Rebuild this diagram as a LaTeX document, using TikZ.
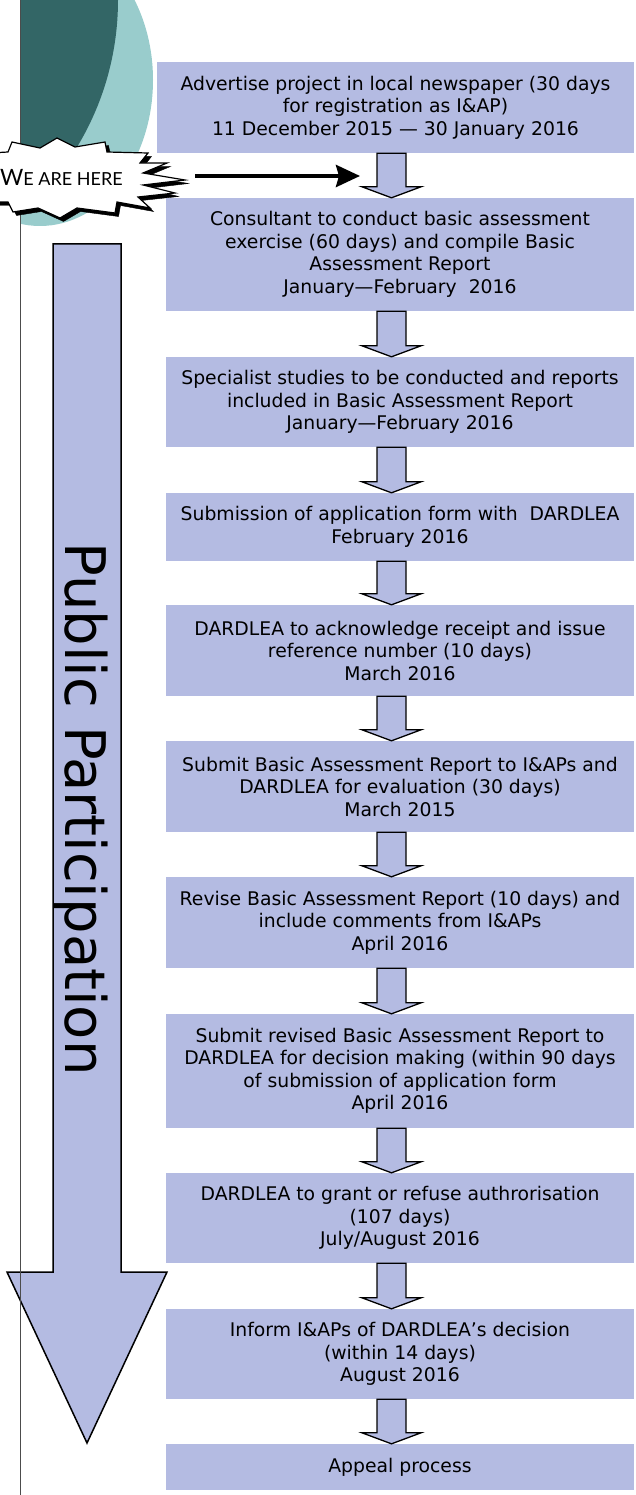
\documentclass[tikz,border=0pt]{standalone}
\usepackage{fontspec}
\setmainfont{DejaVu Sans}
\newfontfamily\burstfont{Lato}
\usetikzlibrary{arrows.meta,calc}
\definecolor{boxblue}{RGB}{180,187,226}
\definecolor{tealL}{RGB}{153,204,204}
\definecolor{tealD}{RGB}{51,102,102}
\def\sw{14.5}
\def\hw{29.5}
\def\hh{11}
\newcommand{\flowarrow}[2]{%
  \draw[blockarrow] ($(#1.south -| ax)+(-\sw,0)$) -- ($(#1.south -| ax)+(\sw,0)$)
    -- ($(#2.north -| ax)+(\sw,-\hh)$) -- ($(#2.north -| ax)+(\hw,-\hh)$) -- (#2.north -| ax)
    -- ($(#2.north -| ax)+(-\hw,-\hh)$) -- ($(#2.north -| ax)+(-\sw,-\hh)$) -- cycle;}
\begin{document}
\begin{tikzpicture}[x=1pt,y=-1pt,stage/.style={fill=boxblue,inner sep=0pt,minimum width=468pt,align=center,font=\fontsize{18.8}{22.5}\selectfont},blockarrow/.style={draw=black,fill=boxblue,line width=1.3pt},bigarrow/.style={draw=black,fill=boxblue,line width=1.5pt},burstS/.style={fill=white,draw=black,line width=1.2pt},shadowS/.style={fill=black},pointer/.style={line width=4pt,-{Stealth[length=24pt,width=22pt,inset=3pt]}}]
\useasboundingbox (0,0) rectangle (636,1495);
\def\cx{400}

% background circles
\begin{scope}
\clip (20.5,0) rectangle (300,400);
\fill[tealL] (40,80) ellipse [x radius=113,y radius=146];
\fill[tealD] (-166,0) circle [radius=284];
\end{scope}

\draw[bigarrow] (53,244) -- (121,244) -- (121,1272) -- (167,1272) -- (87,1443) -- (7,1272) -- (53,1272) -- cycle;
\node[rotate=-90,anchor=base,inner sep=0pt,font=\fontsize{56}{56}\selectfont] (pp) at (65,809) {Public Participation};
\draw[gray!60!black,line width=0.8pt] (20.5,0) -- (20.5,1495);

% starburst
\foreach \d/\st in {3.5/shadowS,0/burstS}
  \draw[\st,shift={(\d,\d)}] (-10,153) -- (8,152) -- (12,142) -- (40,148) -- (57,138) -- (75,147) -- (105,142) -- (107,152) -- (148,153) -- (140,163) -- (167,163) -- (143,173) -- (185,180) -- (143,185) -- (175,193) -- (138,197) -- (150,208) -- (117,202) -- (115,213) -- (77,208) -- (60,218) -- (38,208) -- (13,212) -- (8,202) -- (-10,202) -- cycle;
\node[anchor=base west,inner sep=0pt] (wah) at (0,186) {\burstfont{\fontsize{22.5}{22.5}\selectfont W}{\burstfont\fontsize{18}{18}\selectfont E ARE HERE}};

\node[stage,minimum width=477pt,minimum height=91pt] (s1) at (395.5,107.5) {Advertise project in local newspaper (30 days\\for registration as I\&AP)\\11 December 2015 — 30 January 2016};
\node[stage,minimum height=113pt] (s2) at (\cx,254.5) {Consultant to conduct basic assessment\\exercise (60 days) and compile Basic\\Assessment Report\\January—February~~2016};
\node[stage,minimum height=90pt] (s3) at (\cx,402) {Specialist studies to be conducted and reports\\included in Basic Assessment Report\\January—February 2016};
\node[stage,minimum height=68pt] (s4) at (\cx,527) {Submission of application form with~~DARDLEA\\February 2016};
\node[stage,minimum height=91pt] (s5) at (\cx,650.5) {DARDLEA to acknowledge receipt and issue\\reference number (10 days)\\March 2016};
\node[stage,minimum height=91pt] (s6) at (\cx,786.5) {Submit Basic Assessment Report to I\&APs and\\DARDLEA for evaluation (30 days)\\March 2015};
\node[stage,minimum height=91pt] (s7) at (\cx,922.5) {Revise Basic Assessment Report (10 days) and\\include comments from I\&APs\\April 2016};
\node[stage,minimum height=114pt] (s8) at (\cx,1071) {Submit revised Basic Assessment Report to\\DARDLEA for decision making (within 90 days\\of submission of application form\\April 2016};
\node[stage,minimum height=90pt] (s9) at (\cx,1218) {DARDLEA to grant or refuse authrorisation\\(107 days)\\July/August 2016};
\node[stage,minimum height=90pt] (s10) at (\cx,1354) {Inform I\&APs of DARDLEA’s decision\\(within 14 days)\\August 2016};
\node[stage,minimum height=46pt] (s11) at (\cx,1467) {Appeal process};

\coordinate (ax) at (391.5,0);
\foreach \a/\b in {s1/s2,s2/s3,s3/s4,s4/s5,s5/s6,s6/s7,s7/s8,s8/s9,s9/s10,s10/s11}
  \flowarrow{\a}{\b};

\coordinate (burst) at (195,176);
\coordinate (aim) at (360,176);
\draw[pointer] (burst) -- (aim);
\end{tikzpicture}
\end{document}
